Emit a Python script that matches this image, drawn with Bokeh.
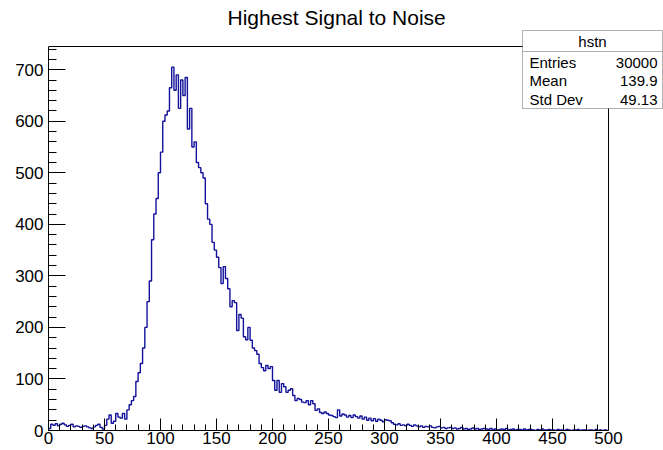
import numpy as np
from bokeh.plotting import figure
from bokeh.models import Range1d, Label, PolyAnnotation, FixedTicker
from bokeh.embed import file_html
from bokeh.resources import INLINE

# ---------------- data ----------------
title_text = "Highest Signal to Noise"
x_lo, x_hi, n_bins = 0, 500, 250
counts = [
    4, 12, 10, 13, 9, 12, 14, 11, 8, 10, 12, 7, 9, 8, 6, 8, 9, 7, 5, 4, 7, 10, 12, 6, 3,
    10, 22, 30, 14, 18, 33, 26, 24, 33, 22, 40, 50, 58, 66, 95,
    112, 130, 160, 200, 250, 290, 370, 420, 450, 500, 540, 600, 612, 620, 665,
    705, 660, 690, 625, 680, 650, 685, 585, 625, 550,
    560, 520, 510, 500, 490, 440, 410, 400, 365, 350,
    336, 316, 285, 318, 295, 275, 240, 252, 248, 194, 225, 218, 182, 176, 200,
    175, 160, 155, 148, 130, 122, 116, 126, 120, 124, 97, 78, 97, 74, 91,
    85, 74, 78, 81, 68, 58, 62, 60, 55, 54, 58, 50, 58, 52, 39,
    42, 35, 33, 36, 33, 30, 29, 27, 25, 40, 28, 32, 30, 26, 29,
    25, 30, 27, 24, 28, 22, 26, 20, 24, 19, 23, 18, 22, 20, 17,
    21, 20, 19, 15, 12, 11, 13, 10, 11, 9, 12, 10, 8, 11, 9,
    7, 9, 6, 8, 7, 9, 6, 5, 7, 8, 5, 6, 4, 5, 6,
    4, 5, 3, 4, 6, 3, 4, 2, 3, 5, 3, 4, 2, 3, 4,
    3, 2, 4, 2, 3, 1, 2, 3, 2, 4, 1, 2, 3, 1, 2,
    2, 1, 3, 1, 2, 2, 1, 0, 2, 1, 3, 1, 1, 2, 1,
    1, 0, 2, 1, 1, 0, 2, 1, 0, 1, 1, 2, 0, 1, 1,
    0, 1, 1, 0, 2, 0, 1, 0, 1, 0,
]
x_ticks = [0, 50, 100, 150, 200, 250, 300, 350, 400, 450, 500]
y_ticks = [0, 100, 200, 300, 400, 500, 600, 700]
y_max = 745
stats_name = "hstn"
stats_keys = ["Entries", "Mean", "Std Dev"]
stats_vals = ["30000", "139.9", "49.13"]

# ---------------- layout ----------------
W, H = 663, 450
FL, FR, FT, FB = 48, 608, 46, 430      # ROOT frame edges (pixels)
CT, CR = 29, 663                        # Bokeh frame extends up/right to hold the stats box

sx = (x_hi - x_lo) / (FR - FL)          # data units per pixel
sy = y_max / (FB - FT)
x_end = x_lo + (CR - FL) * sx
y_end = (FB - CT) * sy

edges = np.linspace(x_lo, x_hi, n_bins + 1)
xs = np.repeat(edges, 2)
ys = np.concatenate([[0], np.repeat(np.asarray(counts, float), 2), [0]])

p = figure(width=W, height=H, output_backend="svg", toolbar_location=None,
           x_range=Range1d(x_lo, x_end), y_range=Range1d(0, y_end),
           min_border_left=FL, min_border_right=W - CR,
           min_border_top=CT, min_border_bottom=H - FB)
p.background_fill_color = "white"
p.border_fill_color = "white"
p.outline_line_color = None
p.xgrid.visible = False
p.ygrid.visible = False

FONT = "Liberation Sans"

p.title.text = title_text
p.title.text_font = FONT
p.title.text_font_size = "21px"
p.title.text_font_style = "normal"
p.title.text_color = "black"
p.title.align = "left"
p.title.offset = 179
p.title.standoff = 2

# ROOT frame: top and right edges
p.segment(x0=[x_lo, x_hi], y0=[y_max, 0], x1=[x_hi, x_hi], y1=[y_max, y_max],
          line_color="black", line_width=1)

p.line(xs, ys, line_color="#12129a", line_width=1.4)

for ax in (p.xaxis[0], p.yaxis[0]):
    ax.axis_line_color = "black"
    ax.major_tick_line_color = "black"
    ax.minor_tick_line_color = "black"
    ax.major_tick_out = 0
    ax.minor_tick_out = 0
    ax.major_label_text_font = FONT
    ax.major_label_text_font_size = "17px"
    ax.major_label_text_color = "black"

p.xaxis[0].bounds = (x_lo, x_hi)
p.xaxis[0].ticker = FixedTicker(ticks=x_ticks, minor_ticks=list(range(x_lo, x_hi + 1, 10)))
p.xaxis[0].major_tick_in = 12
p.xaxis[0].minor_tick_in = 6
p.xaxis[0].major_label_standoff = 1

p.yaxis[0].bounds = (0, y_max)
p.yaxis[0].ticker = FixedTicker(ticks=y_ticks, minor_ticks=list(range(0, 741, 20)))
p.yaxis[0].major_tick_in = 17
p.yaxis[0].minor_tick_in = 8
p.yaxis[0].major_label_standoff = 5

CU = dict(x_units="canvas", y_units="canvas")

# stats box
bx0, bx1, by0, by1, bdiv = 522, 662, 30, 108, 51
p.add_layout(PolyAnnotation(xs=[bx0, bx1, bx1, bx0], ys=[by0, by0, by1, by1],
                            xs_units="canvas", ys_units="canvas",
                            fill_color="white", fill_alpha=1.0,
                            line_color="black", line_width=1, level="overlay"))
p.add_layout(PolyAnnotation(xs=[bx0, bx1], ys=[bdiv, bdiv],
                            xs_units="canvas", ys_units="canvas",
                            fill_alpha=0, line_color="black", line_width=1, level="overlay"))
p.add_layout(Label(x=(bx0 + bx1) / 2, y=41, text=stats_name, text_font=FONT,
                   text_font_size="15px", text_align="center", text_baseline="middle",
                   text_color="black", level="overlay", **CU))
row_y = [62, 80, 99]
for k, v, ry in zip(stats_keys, stats_vals, row_y):
    p.add_layout(Label(x=529, y=ry, text=k, text_font=FONT, text_font_size="15px",
                       text_align="left", text_baseline="middle", text_color="black",
                       level="overlay", **CU))
    p.add_layout(Label(x=657, y=ry, text=v, text_font=FONT, text_font_size="15px",
                       text_align="right", text_baseline="middle", text_color="black",
                       level="overlay", **CU))

open("out.html", "w").write(file_html(p, INLINE))
